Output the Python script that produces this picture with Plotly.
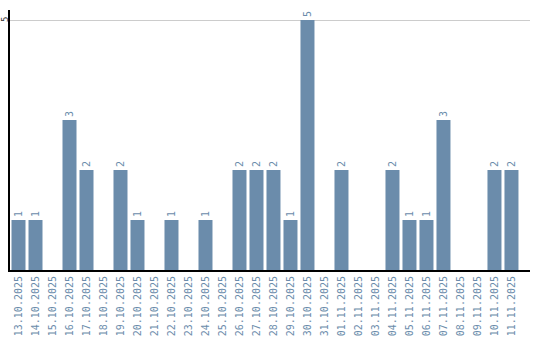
import plotly.graph_objects as go

dates = ["13.10.2025","14.10.2025","15.10.2025","16.10.2025","17.10.2025","18.10.2025",
         "19.10.2025","20.10.2025","21.10.2025","22.10.2025","23.10.2025","24.10.2025",
         "25.10.2025","26.10.2025","27.10.2025","28.10.2025","29.10.2025","30.10.2025",
         "31.10.2025","01.11.2025","02.11.2025","03.11.2025","04.11.2025","05.11.2025",
         "06.11.2025","07.11.2025","08.11.2025","09.11.2025","10.11.2025","11.11.2025"]
counts = [1,1,0,3,2,0,2,1,0,1,0,1,0,2,2,2,1,5,0,2,0,0,2,1,1,3,0,0,2,2]
labels = [str(v) if v else "" for v in counts]
y_ticks = [5]

bar_color = "#6b8cab"
font_fam = "DejaVu Sans Mono"

fig = go.Figure(go.Bar(
    x=list(range(len(dates))), y=counts, text=labels,
    textposition="outside", textangle=-90,
    textfont=dict(family=font_fam, size=10, color="#6b8cab"),
    marker=dict(color=bar_color, line=dict(width=0)),
    cliponaxis=False,
))
for t in y_ticks:
    fig.add_annotation(x=0, xref="paper", y=t, yref="y", text=str(t), showarrow=False,
                       textangle=-90, xanchor="center", yanchor="middle", xshift=-5,
                       font=dict(family=font_fam, size=9, color="#333333"))
fig.update_layout(
    width=540, height=340, margin=dict(l=10, r=10, t=10, b=70),
    plot_bgcolor="white", paper_bgcolor="white", showlegend=False,
    bargap=3/17,
    xaxis=dict(range=[-0.5, 30.09], tickmode="array", tickvals=list(range(len(dates))),
               ticktext=dates, tickangle=-90, showgrid=False, zeroline=False,
               showline=True, linecolor="black", linewidth=2, ticks="", automargin=False,
               tickfont=dict(family=font_fam, size=10, color="#6b8cab")),
    yaxis=dict(range=[0, 5.2], tickmode="array", tickvals=y_ticks, showticklabels=False,
               showgrid=True, gridcolor="#cccccc", gridwidth=1,
               zeroline=False, showline=True, linecolor="black", linewidth=2,
               ticks="", automargin=False),
    font=dict(family=font_fam),
)
fig.write_html("out.html")
